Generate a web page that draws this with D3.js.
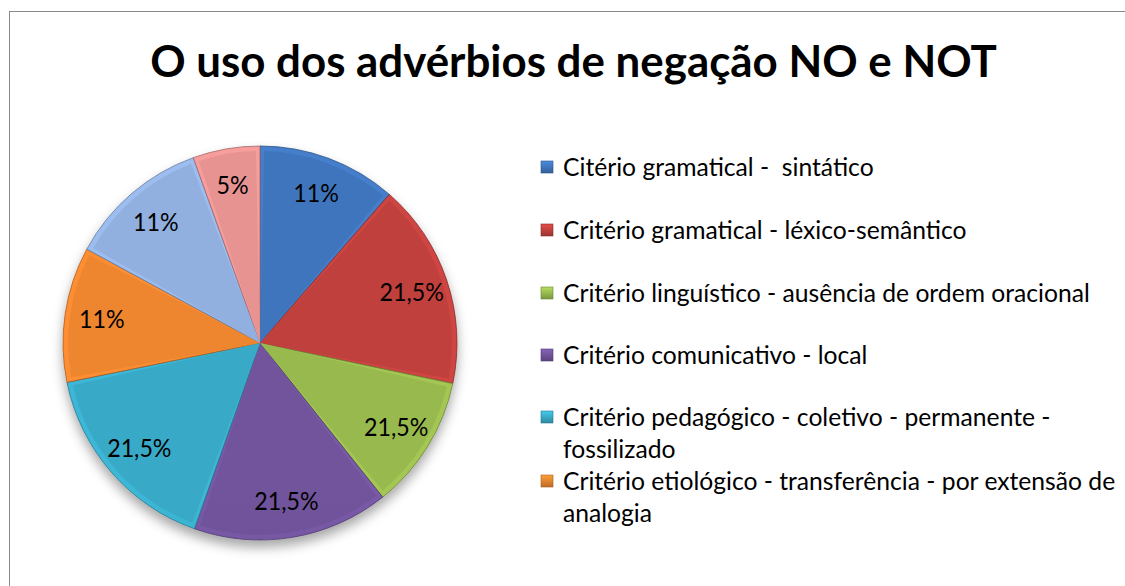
<!DOCTYPE html>
<html>
<head>
<meta charset="utf-8">
<script src="https://cdn.jsdelivr.net/npm/d3@7"></script>
<style>
  body { margin: 0; background: #fff; }
  svg { display: block; font-family: Lato, "Noto Sans", sans-serif; }
  text { white-space: pre; }
</style>
</head>
<body>
<svg id="chart" width="1125" height="586"></svg>
<script>
const title = "O uso dos advérbios de negação NO e NOT";

const categories = [
  "Citério gramatical -  sintático",
  "Critério gramatical - léxico-semântico",
  "Critério linguístico - ausência de ordem oracional",
  "Critério comunicativo - local",
  "Critério pedagógico - coletivo - permanente - fossilizado",
  "Critério etiológico - transferência - por extensão de analogia",
  "",
  "",
];

// slice sizes (share of the circle)
const values = [11.4, 16.9, 11.0, 16.1, 16.4, 11.1, 11.6, 5.5];

// data labels as printed on the slices
const labels = ["11%", "21,5%", "21,5%", "21,5%", "21,5%", "11%", "11%", "5%"];

const colors = [
  "#3d71b6", "#b93e3b", "#93b34b", "#6d5197",
  "#36a4c1", "#e6802d", "#8caad8", "#de8e8d",
];

// number of legend entries Excel managed to fit
const legendCount = 6;

const svg = d3.select("#chart");
const defs = svg.append("defs");

// chart frame
svg.append("rect")
  .attr("x", 9.5).attr("y", 11.5)
  .attr("width", 1200).attr("height", 700)
  .attr("fill", "#fff")
  .attr("stroke", "#8a8a8a");

// title, condensed to the width of the original
const titleText = svg.append("text")
  .attr("text-anchor", "middle")
  .attr("font-weight", "bold")
  .attr("font-size", 43)
  .attr("fill", "#000")
  .text(title);
const titleW = titleText.node().getComputedTextLength();
const titleScale = 847 / titleW;
titleText.attr("transform", `translate(573.5,77) scale(${titleScale},1)`);

// pie
const cx = 260, cy = 343, r = 197;

const pie = d3.pie().sort(null).value(d => d);
const arcs = pie(values);

const arc = d3.arc().innerRadius(0).outerRadius(r);
const inner = d3.arc().innerRadius(0).outerRadius(r - 5).padAngle(0.08).padRadius(100);
const labelArc = d3.arc().innerRadius(160).outerRadius(160);

defs.append("filter").attr("id", "shadow")
  .attr("x", "-20%").attr("y", "-20%").attr("width", "140%").attr("height", "150%")
  .append("feDropShadow")
  .attr("dx", 0).attr("dy", 7).attr("stdDeviation", 6)
  .attr("flood-color", "#000").attr("flood-opacity", 0.35);

colors.forEach((c, i) => {
  const base = d3.color(c);
  const g = defs.append("linearGradient")
    .attr("id", "fill" + i)
    .attr("gradientUnits", "userSpaceOnUse")
    .attr("x1", 0).attr("y1", cy - r).attr("x2", 0).attr("y2", cy + r);
  g.append("stop").attr("offset", 0).attr("stop-color", base.brighter(0.1));
  g.append("stop").attr("offset", 1).attr("stop-color", base.darker(0.3));

  const rim = defs.append("linearGradient")
    .attr("id", "rim" + i)
    .attr("gradientUnits", "userSpaceOnUse")
    .attr("x1", 0).attr("y1", cy - r).attr("x2", 0).attr("y2", cy + r);
  rim.append("stop").attr("offset", 0).attr("stop-color", base.brighter(0.3));
  rim.append("stop").attr("offset", 0.5).attr("stop-color", base.brighter(0.05));
  rim.append("stop").attr("offset", 1).attr("stop-color", base.darker(0.6));
});

const pieG = svg.append("g")
  .attr("transform", `translate(${cx},${cy})`);

const slices = pieG.append("g").attr("filter", "url(#shadow)");

slices.selectAll("path.rim")
  .data(arcs)
  .join("path")
  .attr("class", "rim")
  .attr("d", arc)
  .attr("fill", (d, i) => `url(#rim${i})`)
  .attr("stroke", (d, i) => d3.color(colors[i]).darker(0.9))
  .attr("stroke-width", 0.8);

pieG.selectAll("path.face")
  .data(arcs)
  .join("path")
  .attr("class", "face")
  .attr("d", inner)
  .attr("fill", (d, i) => `url(#fill${i})`);

pieG.selectAll("text.lbl")
  .data(arcs)
  .join("text")
  .attr("class", "lbl")
  .attr("transform", d => {
    const [x, y] = labelArc.centroid(d);
    return `translate(${x},${y + 9}) scale(0.93,1)`;
  })
  .attr("text-anchor", "middle")
  .attr("font-size", 25)
  .attr("fill", "#000")
  .text((d, i) => labels[i]);

// legend
const legendX = 541;
const legendTextX = 563;
const lineH = 32;
const rowY = [167, 230, 293, 355, 417, 481];

const legend = svg.append("g");

// find the horizontal condensing from the widest single line
const probe = legend.append("text").attr("font-size", 24.5).text(categories[2]);
const legScale = 527 / probe.node().getComputedTextLength();
probe.remove();
const maxW = 556 / legScale;

function wrap(str) {
  const words = str.split(" ");
  const lines = [];
  let line = "";
  const t = legend.append("text").attr("font-size", 24.5);
  words.forEach(w => {
    const test = line === "" ? w : line + " " + w;
    t.text(test);
    if (t.node().getComputedTextLength() > maxW && line !== "") {
      lines.push(line);
      line = w;
    } else {
      line = test;
    }
  });
  lines.push(line);
  t.remove();
  return lines;
}

categories.slice(0, legendCount).forEach((name, i) => {
  const y = rowY[i];
  const base = d3.color(colors[i]);
  const mg = defs.append("linearGradient")
    .attr("id", "mk" + i).attr("x1", 0).attr("y1", 0).attr("x2", 0).attr("y2", 1);
  mg.append("stop").attr("offset", 0).attr("stop-color", base.brighter(0.6));
  mg.append("stop").attr("offset", 1).attr("stop-color", base.darker(0.5));

  legend.append("rect")
    .attr("x", legendX).attr("y", y - 6)
    .attr("width", 12).attr("height", 12)
    .attr("fill", `url(#mk${i})`)
    .attr("stroke", base.darker(0.9))
    .attr("stroke-width", 0.6);

  const lines = wrap(name);
  const t = legend.append("text")
    .attr("font-size", 24.5)
    .attr("fill", "#000")
    .attr("transform", `translate(${legendTextX},${y + 9}) scale(${legScale},1)`);
  lines.forEach((ln, k) => {
    t.append("tspan").attr("x", 0).attr("y", k * lineH).text(ln);
  });
});
</script>
</body>
</html>
